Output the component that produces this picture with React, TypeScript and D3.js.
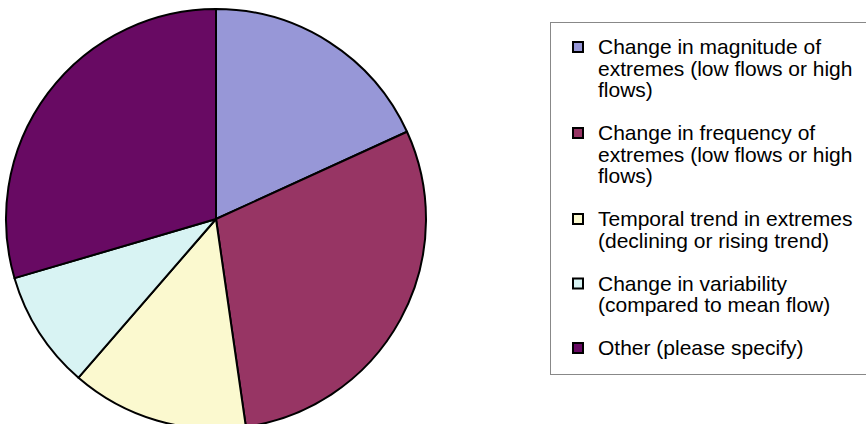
import React from "react";
import * as d3 from "d3";

const categories = [
  "Change in magnitude of extremes (low flows or high flows)",
  "Change in frequency of extremes (low flows or high flows)",
  "Temporal trend in extremes (declining or rising trend)",
  "Change in variability (compared to mean flow)",
  "Other (please specify)",
];
const legendLines = [
  ["Change in magnitude of", "extremes (low flows or high", "flows)"],
  ["Change in frequency of", "extremes (low flows or high", "flows)"],
  ["Temporal trend in extremes", "(declining or rising trend)"],
  ["Change in variability", "(compared to mean flow)"],
  ["Other (please specify)"],
];
const values = [8, 13, 6, 4, 13];
const colors = ["#9797D7", "#973564", "#FBF9CF", "#D8F3F3", "#680A63"];

const W = 866;
const H = 424;
const cx = 216;
const cy = 219;
const R = 210;

export default function App() {
  const pie = d3.pie<number>().sort(null).value((d) => d);
  const arcs = pie(values);
  const arc = d3.arc<d3.PieArcDatum<number>>().innerRadius(0).outerRadius(R);

  const lineH = 21.5;
  let y = 54;
  const items = legendLines.map((lines, i) => {
    const top = y;
    y += (lines.length + 1) * lineH;
    return { lines, top, i };
  });

  return (
    <svg
      width={W}
      height={H}
      style={{ position: "absolute", left: 0, top: 0, background: "#fff" }}
      fontFamily="'Liberation Sans', Arial, sans-serif"
    >
      <g transform={`translate(${cx},${cy})`}>
        {arcs.map((a, i) => (
          <path
            key={i}
            d={arc(a) || ""}
            fill={colors[i]}
            stroke="#000"
            strokeWidth={2}
            strokeLinejoin="round"
          >
            <title>{categories[i]}</title>
          </path>
        ))}
      </g>
      <rect x={550.5} y={22.5} width={330} height={352} fill="#fff" stroke="#888" strokeWidth={1} />
      {items.map(({ lines, top, i }) => (
        <g key={i}>
          <rect
            x={573}
            y={top - 12}
            width={10}
            height={10}
            fill={colors[i]}
            stroke="#000"
            strokeWidth={2}
          />
          <text x={598} y={top} fontSize={21} fill="#000">
            {lines.map((l, j) => (
              <tspan key={j} x={598} y={top + j * lineH}>
                {l}
              </tspan>
            ))}
          </text>
        </g>
      ))}
    </svg>
  );
}
